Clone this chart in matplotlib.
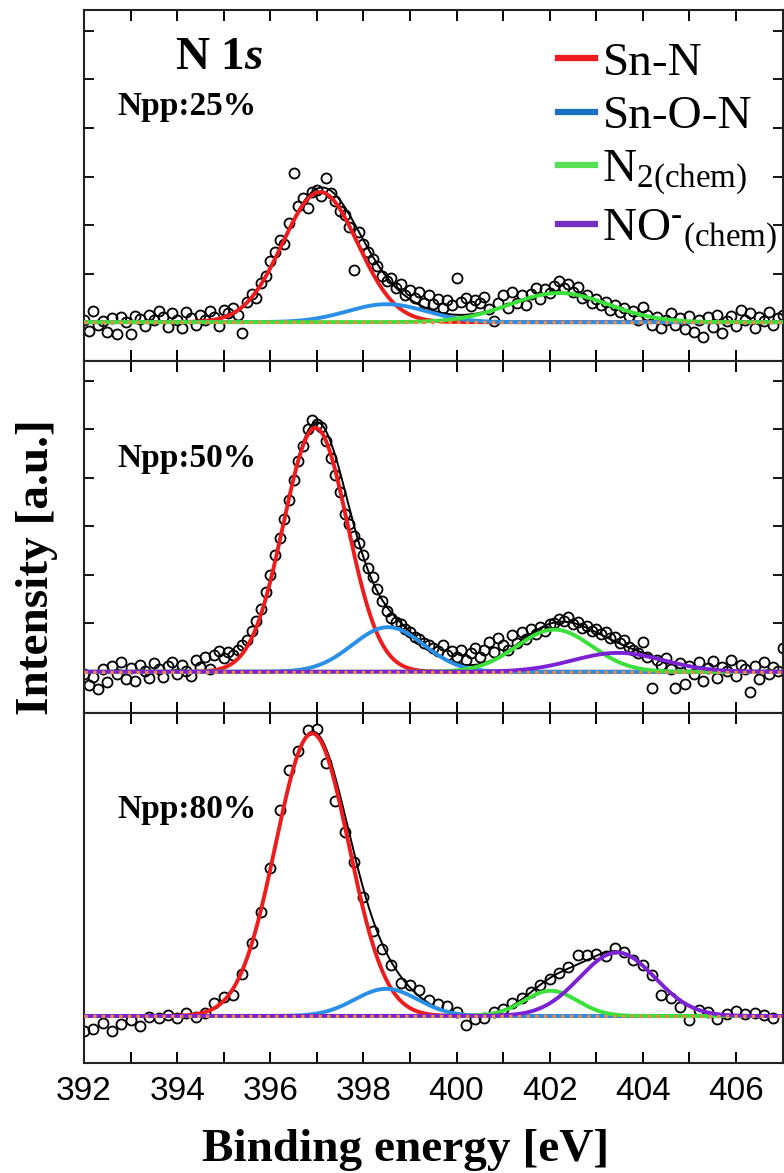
import numpy as np
import matplotlib
matplotlib.use('Agg')
import matplotlib.pyplot as plt
from matplotlib.lines import Line2D
from matplotlib.ticker import MultipleLocator, FuncFormatter

plt.rcParams['font.family'] = 'Liberation Serif'
plt.rcParams['mathtext.fontset'] = 'custom'
plt.rcParams['mathtext.rm'] = 'Liberation Serif'
plt.rcParams['mathtext.it'] = 'Liberation Serif:italic:bold'

# panel labels
panel_names = ['Npp:25%', 'Npp:50%', 'Npp:80%']

# components: Sn-N, Sn-O-N, N2(chem), NO-(chem)
comp_labels = ['Sn-N', 'Sn-O-N', r'N$_{\mathrm{2(chem)}}$', r'NO$^{\text{-}}$$_{\mathrm{(chem)}}$']
comp_colors = ['#ee1c1c', '#2a8fe6', '#3be03b', '#7a22d4']
legend_colors = ['#ee1c1c', '#1a70c4', '#55e055', '#7430c4']

# peak parameters (centre eV, height, fwhm eV); None = not present
peaks_25 = [(397.07, 2.68, 1.90), (398.50, 0.37, 2.00), (402.20, 0.60, 2.50), None]
peaks_50 = [(396.97, 5.03, 1.62), (398.53, 0.92, 1.80), (402.10, 0.87, 1.90), (403.47, 0.39, 2.30)]
peaks_80 = [(396.90, 5.83, 1.85), (398.49, 0.56, 1.60), (402.02, 0.52, 1.35), (403.45, 1.31, 1.90)]

# measured points, 0.1 eV step from 392.0 (25% and 50%), 0.2 eV step (80%)
y_25 = [0.05, -0.18, 0.22, -0.05, 0.02, -0.20, 0.08, -0.25, 0.10, 0.00,
        -0.24, 0.12, 0.06, -0.08, 0.15, 0.04, 0.22, 0.10, -0.10, 0.18,
        0.05, -0.12, 0.20, 0.08, -0.06, 0.14, 0.05, 0.22, 0.10, -0.08,
        0.25, 0.18, 0.30, 0.14, -0.23, 0.42, 0.58, 0.50, 0.80, 0.95,
        1.25, 1.45, 1.70, 1.62, 2.05, 3.07, 2.40, 2.55, 2.35, 2.68,
        2.72, 2.60, 2.96, 2.66, 2.50, 2.30, 2.20, 1.95, 1.07, 1.85,
        1.60, 1.45, 1.30, 1.15, 0.95, 0.85, 0.90, 0.70, 0.78, 0.55,
        0.66, 0.50, 0.62, 0.40, 0.55, 0.38, 0.48, 0.30, 0.45, 0.35,
        0.90, 0.42, 0.50, 0.33, 0.45, 0.40, 0.52, 0.28, 0.02, 0.40,
        0.55, 0.30, 0.62, 0.40, 0.55, 0.35, 0.58, 0.70, 0.48, 0.68,
        0.60, 0.75, 0.85, 0.70, 0.78, 0.62, 0.72, 0.50, 0.55, 0.40,
        0.48, 0.35, 0.42, 0.25, 0.36, 0.20, 0.30, 0.12, 0.22, 0.05,
        0.32, 0.15, -0.05, 0.10, -0.12, 0.05, 0.18, -0.05, 0.08, -0.15,
        0.12, -0.20, 0.05, -0.30, 0.10, -0.10, 0.15, -0.22, 0.02, 0.12,
        -0.08, 0.25, 0.05, 0.18, -0.12, 0.10, 0.02, 0.20, -0.06, 0.08,
        0.15]
y_50 = [-0.05, -0.28, -0.10, -0.35, 0.05, -0.22, 0.12, -0.05, 0.20, -0.15,
        0.08, -0.20, 0.15, 0.02, -0.12, 0.18, 0.05, -0.10, 0.12, 0.20,
        -0.05, 0.15, 0.02, -0.08, 0.25, 0.10, 0.30, 0.05, 0.35, 0.42,
        0.28, 0.40, 0.35, 0.45, 0.55, 0.65, 0.85, 1.05, 1.30, 1.65,
        2.00, 2.40, 2.75, 3.15, 3.55, 3.95, 4.35, 4.65, 5.00, 5.20,
        5.12, 5.05, 4.75, 4.40, 4.05, 3.70, 3.25, 3.05, 2.80, 2.65,
        2.40, 2.15, 1.95, 1.70, 1.45, 1.25, 1.10, 1.02, 0.98, 0.88,
        0.82, 0.72, 0.68, 0.60, 0.55, 0.50, 0.42, 0.55, 0.35, 0.42,
        0.30, 0.45, 0.25, 0.38, 0.50, 0.30, 0.45, 0.62, 0.40, 0.70,
        0.55, 0.45, 0.75, 0.60, 0.82, 0.68, 0.88, 0.78, 0.92, 0.85,
        0.98, 1.00, 1.08, 1.05, 1.12, 0.98, 1.02, 0.90, 0.95, 0.85,
        0.88, 0.78, 0.82, 0.70, 0.72, 0.60, 0.65, 0.52, 0.45, 0.38,
        0.62, 0.30, -0.33, 0.25, 0.15, 0.28, 0.05, -0.33, 0.18, -0.25,
        0.12, -0.05, 0.20, -0.18, 0.08, 0.22, -0.12, 0.10, 0.02, 0.25,
        -0.08, 0.15, 0.05, -0.41, 0.12, -0.15, 0.20, -0.05, 0.10, 0.02,
        0.49]
y_80 = [-0.31, -0.27, -0.15, -0.31, -0.16, -0.08, -0.20, -0.02, -0.04, 0.02,
        -0.04, 0.06, -0.02, 0.06, 0.27, 0.39, 0.43, 0.87, 1.51, 2.14,
        3.05, 4.25, 5.07, 5.46, 5.90, 5.92, 5.22, 4.43, 3.79, 3.18,
        2.45, 1.75, 1.38, 1.05, 0.68, 0.64, 0.54, 0.33, 0.24, 0.21,
        0.08, -0.19, -0.06, -0.04, 0.08, 0.15, 0.27, 0.37, 0.49, 0.64,
        0.76, 0.89, 1.01, 1.26, 1.26, 1.28, 1.24, 1.40, 1.32, 1.15,
        1.05, 0.85, 0.43, 0.37, 0.19, -0.08, 0.12, 0.08, -0.06, 0.04,
        0.10, 0.04, 0.06, 0.02, -0.04]

x_25 = np.linspace(392.0, 392.0 + 0.1 * (len(y_25) - 1), len(y_25))
x_50 = np.linspace(392.0, 392.0 + 0.1 * (len(y_50) - 1), len(y_50))
x_80 = np.linspace(392.0, 392.0 + 0.2 * (len(y_80) - 1), len(y_80))

panels = [(x_25, y_25, peaks_25, (-0.80, 6.43), True),
          (x_50, y_50, peaks_50, (-0.85, 6.41), True),
          (x_80, y_80, peaks_80, (-0.97, 6.25), False)]

W, H = 784, 1173
fig = plt.figure(figsize=(W / 100, H / 100), dpi=100)
tops = [10, 361, 713]
bots = [361, 713, 1063]
name_base = [115, 467, 818]

xx = np.linspace(392, 407, 800)


def gauss(x, c, a, f):
    return a * np.exp(-4 * np.log(2) * ((x - c) / f) ** 2)


axes = []
for i, (xd, yd, pk, ylim, yticks) in enumerate(panels):
    ax = fig.add_axes([84 / W, 1 - bots[i] / H, (782.5 - 84) / W, (bots[i] - tops[i]) / H])
    axes.append(ax)
    ax.plot(xd, yd, 'o', mfc='none', mec='black', ms=7.2, mew=1.3, zorder=2)
    comps = [gauss(xx, *p) if p is not None else None for p in pk]
    env = sum(c for c in comps if c is not None)
    ax.plot(xx, env, color='black', lw=1.4, zorder=3)
    for c, col in zip(comps, comp_colors):
        if c is not None:
            ax.plot(xx, c, color=col, lw=2.8, zorder=4)
    ax.axhline(0, color='#ee8a48', lw=2.4, ls=(0, (1, 1.6)), zorder=5)
    ax.set_xlim(392, 407)
    ax.set_ylim(*ylim)
    ax.xaxis.set_major_locator(MultipleLocator(1))
    ax.tick_params(axis='x', direction='in', top=True, bottom=True, length=8, width=1.4, pad=9)
    if yticks:
        ax.yaxis.set_major_locator(MultipleLocator(1))
        ax.tick_params(axis='y', direction='in', left=True, right=True, length=7, width=1.3,
                       labelleft=False)
    else:
        ax.set_yticks([])
    for s in ax.spines.values():
        s.set_linewidth(1.5)
        s.set_color('#222222')
    if i < 2:
        ax.tick_params(labelbottom=False)
    else:
        ax.xaxis.set_major_formatter(FuncFormatter(
            lambda v, p: '%d' % round(v) if round(v) % 2 == 0 else ''))
        for lab in ax.get_xticklabels():
            lab.set_fontfamily('Liberation Sans')
            lab.set_fontsize(24)
    fig.text(117 / W, 1 - name_base[i] / H, panel_names[i], fontsize=24, fontweight='bold',
             va='baseline', ha='left')

fig.text(175 / W, 1 - 69 / H, r'N 1$\mathit{s}$', fontsize=34, fontweight='bold',
         va='baseline', ha='left')

handles = [Line2D([], [], color=c, lw=4.5) for c in legend_colors]
axes[0].legend(handles, comp_labels, loc='upper left', bbox_to_anchor=(0.678, 0.91),
               frameon=False, fontsize=34, handlelength=0.8, handletextpad=0.15,
               labelspacing=0.22, borderpad=0, borderaxespad=0)

fig.text(37 / W, 1 - 567 / H, 'Intensity [a.u.]', rotation=90, fontsize=34,
         fontweight='bold', ha='center', va='center')
fig.text(406 / W, 1 - 1150 / H, 'Binding energy [eV]', fontsize=34,
         fontweight='bold', ha='center', va='center')

fig.savefig('out.png', dpi=100)
